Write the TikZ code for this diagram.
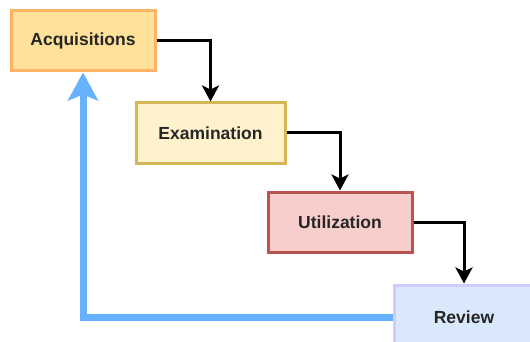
\documentclass[tikz,border=0pt]{standalone}
\usepackage{fontspec}
\setmainfont{Liberation Sans}
\usetikzlibrary{arrows.meta}
\definecolor{acqfill}{HTML}{FFE199}
\definecolor{acqdraw}{HTML}{FFB366}
\definecolor{exfill}{HTML}{FFF2CC}
\definecolor{exdraw}{HTML}{D6B656}
\definecolor{utfill}{HTML}{F8CECC}
\definecolor{utdraw}{HTML}{B85450}
\definecolor{revfill}{HTML}{DAE8FC}
\definecolor{revdraw}{HTML}{CCCCFF}
\definecolor{backblue}{HTML}{66B2FF}
\begin{document}
\begin{tikzpicture}[x=1pt,y=-1pt,
  box/.style={draw,line width=3pt,minimum height=60pt,inner sep=0pt,
    font=\fontsize{17.5}{20}\selectfont\bfseries,text=black!85},
  flow/.style={draw=black,line width=3pt,-{Stealth[width=17pt,length=16pt,inset=4pt]}},
  back/.style={draw=backblue,line width=7pt,-{Stealth[width=30pt,length=28pt,inset=6pt]}}]
\useasboundingbox (0,0) rectangle (530,342);
\node[box,fill=acqfill,draw=acqdraw,minimum width=144pt] (acq) at (83,41) {Acquisitions};
\node[box,fill=exfill,draw=exdraw,minimum width=149pt] (ex) at (210.5,133) {Examination};
\node[box,fill=utfill,draw=utdraw,minimum width=144pt] (ut) at (340,222) {Utilization};
\node[box,fill=revfill,draw=revdraw,minimum width=140pt,minimum height=64pt] (rev) at (464,317) {Review};
\draw[flow] (acq.east) -| (ex.north);
\draw[flow] (ex.east) -| (ut.north);
\draw[flow] (ut.east) -| (rev.north);
\draw[back] (rev.west) -| (acq.south);
\end{tikzpicture}
\end{document}
